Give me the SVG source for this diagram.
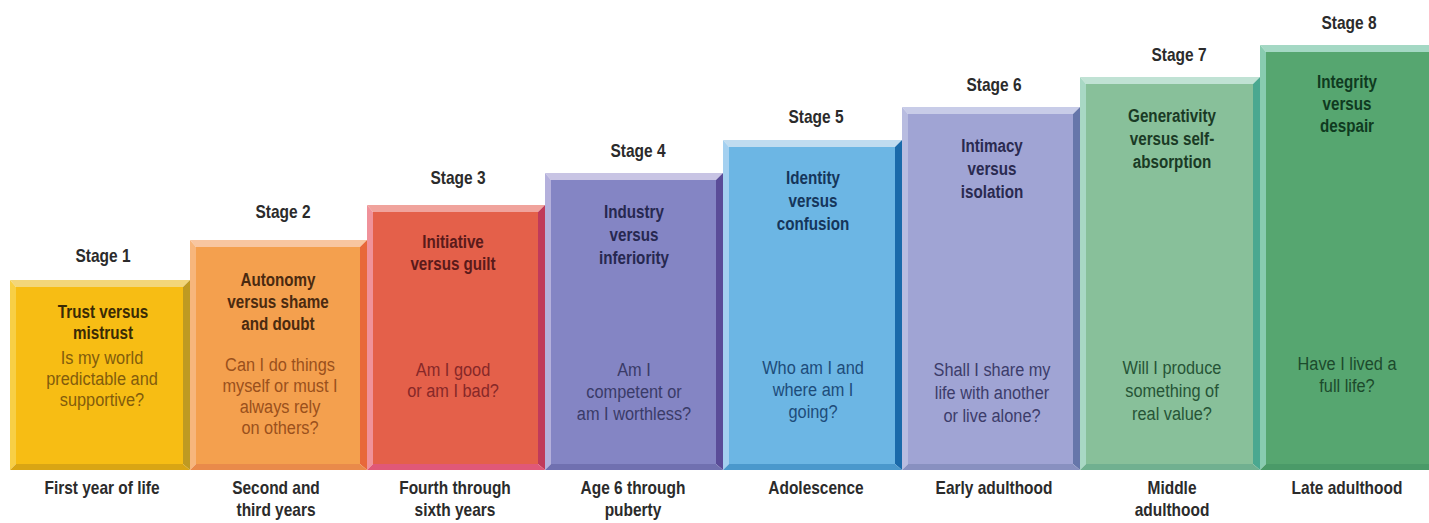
<svg xmlns="http://www.w3.org/2000/svg" width="1429" height="523" viewBox="0 0 1429 523">
<style>
text{font-family:"Liberation Sans",Arial,sans-serif;text-anchor:middle}
.lbl{font-size:18px;font-weight:bold;fill:#2b2b2b}
.ttl{font-size:19px;font-weight:bold}
.q{font-size:19px}
</style>
<rect width="1429" height="523" fill="#ffffff"/>

<g id="stage1">
<rect x="16" y="287" width="167" height="177" fill="#f7bd14"/>
<polygon points="10,280 190,280 183,287 16,287" fill="#f3d67a"/>
<polygon points="10,280 16,287 16,464 10,470" fill="#f8cf45"/>
<polygon points="190,280 190,470 183,464 183,287" fill="#bf9a22"/>
<polygon points="10,470 190,470 183,464 16,464" fill="#d9a514"/>
<g transform="translate(103 0) scale(0.86 1)"><text class="lbl" y="262">Stage 1</text></g>
<g transform="translate(103 0) scale(0.8 1)" fill="#3a2a05"><text class="ttl" y="318">Trust versus</text><text class="ttl" y="339">mistrust</text></g>
<g transform="translate(102 0) scale(0.86 1)" fill="#825c0c"><text class="q" y="364">Is my world</text><text class="q" y="385">predictable and</text><text class="q" y="406">supportive?</text></g>
<g transform="translate(102 0) scale(0.86 1)"><text class="lbl" y="494">First year of life</text></g>
</g>

<g id="stage2">
<rect x="196" y="247" width="164" height="217" fill="#f4a04e"/>
<polygon points="190,240 367,240 360,247 196,247" fill="#f8c6a0"/>
<polygon points="190,240 196,247 196,464 190,470" fill="#f7b67c"/>
<polygon points="367,240 367,470 360,464 360,247" fill="#e8683a"/>
<polygon points="190,470 367,470 360,464 196,464" fill="#e98a4a"/>
<g transform="translate(283 0) scale(0.86 1)"><text class="lbl" y="218">Stage 2</text></g>
<g transform="translate(278 0) scale(0.8 1)" fill="#4a2a10"><text class="ttl" y="286">Autonomy</text><text class="ttl" y="308">versus shame</text><text class="ttl" y="330">and doubt</text></g>
<g transform="translate(280 0) scale(0.86 1)" fill="#9a501c"><text class="q" y="371">Can I do things</text><text class="q" y="392">myself or must I</text><text class="q" y="413">always rely</text><text class="q" y="434">on others?</text></g>
<g transform="translate(276 0) scale(0.86 1)"><text class="lbl" y="494">Second and</text><text class="lbl" y="516">third years</text></g>
</g>

<g id="stage3">
<rect x="373" y="212" width="165" height="252" fill="#e4604a"/>
<polygon points="367,205 545,205 538,212 373,212" fill="#f0a39c"/>
<polygon points="367,205 373,212 373,464 367,470" fill="#f0929a"/>
<polygon points="545,205 545,470 538,464 538,212" fill="#c03a5a"/>
<polygon points="367,470 545,470 538,464 373,464" fill="#e05878"/>
<g transform="translate(458 0) scale(0.86 1)"><text class="lbl" y="184">Stage 3</text></g>
<g transform="translate(453 0) scale(0.8 1)" fill="#5a1a1a"><text class="ttl" y="248">Initiative</text><text class="ttl" y="270">versus guilt</text></g>
<g transform="translate(453 0) scale(0.86 1)" fill="#862828"><text class="q" y="376">Am I good</text><text class="q" y="397">or am I bad?</text></g>
<g transform="translate(455 0) scale(0.86 1)"><text class="lbl" y="494">Fourth through</text><text class="lbl" y="516">sixth years</text></g>
</g>

<g id="stage4">
<rect x="551" y="180" width="165" height="284" fill="#8485c4"/>
<polygon points="545,173 723,173 716,180 551,180" fill="#c8c4e4"/>
<polygon points="545,173 551,180 551,464 545,470" fill="#b4b0dc"/>
<polygon points="723,173 723,470 716,464 716,180" fill="#5a4c98"/>
<polygon points="545,470 723,470 716,464 551,464" fill="#7070b0"/>
<g transform="translate(638 0) scale(0.86 1)"><text class="lbl" y="157">Stage 4</text></g>
<g transform="translate(634 0) scale(0.8 1)" fill="#272850"><text class="ttl" y="218">Industry</text><text class="ttl" y="241">versus</text><text class="ttl" y="264">inferiority</text></g>
<g transform="translate(634 0) scale(0.86 1)" fill="#3a3b68"><text class="q" y="376">Am I</text><text class="q" y="398">competent or</text><text class="q" y="420">am I worthless?</text></g>
<g transform="translate(633 0) scale(0.86 1)"><text class="lbl" y="494">Age 6 through</text><text class="lbl" y="516">puberty</text></g>
</g>

<g id="stage5">
<rect x="729" y="147" width="166" height="317" fill="#6cb6e4"/>
<polygon points="723,140 902,140 895,147 729,147" fill="#c0dcf0"/>
<polygon points="723,140 729,147 729,464 723,470" fill="#a4d0f0"/>
<polygon points="902,140 902,470 895,464 895,147" fill="#1a6aaa"/>
<polygon points="723,470 902,470 895,464 729,464" fill="#4a98cc"/>
<g transform="translate(816 0) scale(0.86 1)"><text class="lbl" y="123">Stage 5</text></g>
<g transform="translate(813 0) scale(0.8 1)" fill="#15355a"><text class="ttl" y="184">Identity</text><text class="ttl" y="207">versus</text><text class="ttl" y="230">confusion</text></g>
<g transform="translate(813 0) scale(0.86 1)" fill="#1d4c7a"><text class="q" y="374">Who am I and</text><text class="q" y="396">where am I</text><text class="q" y="418">going?</text></g>
<g transform="translate(816 0) scale(0.86 1)"><text class="lbl" y="494">Adolescence</text></g>
</g>

<g id="stage6">
<rect x="908" y="114" width="165" height="350" fill="#a0a4d4"/>
<polygon points="902,107 1080,107 1073,114 908,114" fill="#c8cce8"/>
<polygon points="902,107 908,114 908,464 902,470" fill="#b8bce0"/>
<polygon points="1080,107 1080,470 1073,464 1073,114" fill="#6676aa"/>
<polygon points="902,470 1080,470 1073,464 908,464" fill="#8890c0"/>
<g transform="translate(994 0) scale(0.86 1)"><text class="lbl" y="91">Stage 6</text></g>
<g transform="translate(992 0) scale(0.8 1)" fill="#2a2a50"><text class="ttl" y="152">Intimacy</text><text class="ttl" y="175">versus</text><text class="ttl" y="198">isolation</text></g>
<g transform="translate(992 0) scale(0.86 1)" fill="#3c3c6a"><text class="q" y="376">Shall I share my</text><text class="q" y="399">life with another</text><text class="q" y="422">or live alone?</text></g>
<g transform="translate(994 0) scale(0.86 1)"><text class="lbl" y="494">Early adulthood</text></g>
</g>

<g id="stage7">
<rect x="1086" y="84" width="167" height="380" fill="#88c09a"/>
<polygon points="1080,77 1260,77 1253,84 1086,84" fill="#c0e2d4"/>
<polygon points="1080,77 1086,84 1086,464 1080,470" fill="#a8d8c4"/>
<polygon points="1260,77 1260,470 1253,464 1253,84" fill="#4aa890"/>
<polygon points="1080,470 1260,470 1253,464 1086,464" fill="#70b090"/>
<g transform="translate(1179 0) scale(0.86 1)"><text class="lbl" y="61">Stage 7</text></g>
<g transform="translate(1172 0) scale(0.8 1)" fill="#1a3a25"><text class="ttl" y="122">Generativity</text><text class="ttl" y="145">versus self-</text><text class="ttl" y="168">absorption</text></g>
<g transform="translate(1172 0) scale(0.86 1)" fill="#265436"><text class="q" y="374">Will I produce</text><text class="q" y="397">something of</text><text class="q" y="420">real value?</text></g>
<g transform="translate(1172 0) scale(0.86 1)"><text class="lbl" y="494">Middle</text><text class="lbl" y="516">adulthood</text></g>
</g>

<g id="stage8">
<rect x="1266" y="52" width="170" height="412" fill="#56a670"/>
<polygon points="1260,45 1436,45 1429,52 1266,52" fill="#a4d8c4"/>
<polygon points="1260,45 1266,52 1266,464 1260,470" fill="#88ccb0"/>
<polygon points="1260,470 1436,470 1429,464 1266,464" fill="#4a9a68"/>
<g transform="translate(1349 0) scale(0.86 1)"><text class="lbl" y="29">Stage 8</text></g>
<g transform="translate(1347 0) scale(0.8 1)" fill="#0f3a20"><text class="ttl" y="88">Integrity</text><text class="ttl" y="110">versus</text><text class="ttl" y="132">despair</text></g>
<g transform="translate(1347 0) scale(0.86 1)" fill="#1c4a2c"><text class="q" y="370">Have I lived a</text><text class="q" y="392">full life?</text></g>
<g transform="translate(1347 0) scale(0.86 1)"><text class="lbl" y="494">Late adulthood</text></g>
</g>
</svg>
